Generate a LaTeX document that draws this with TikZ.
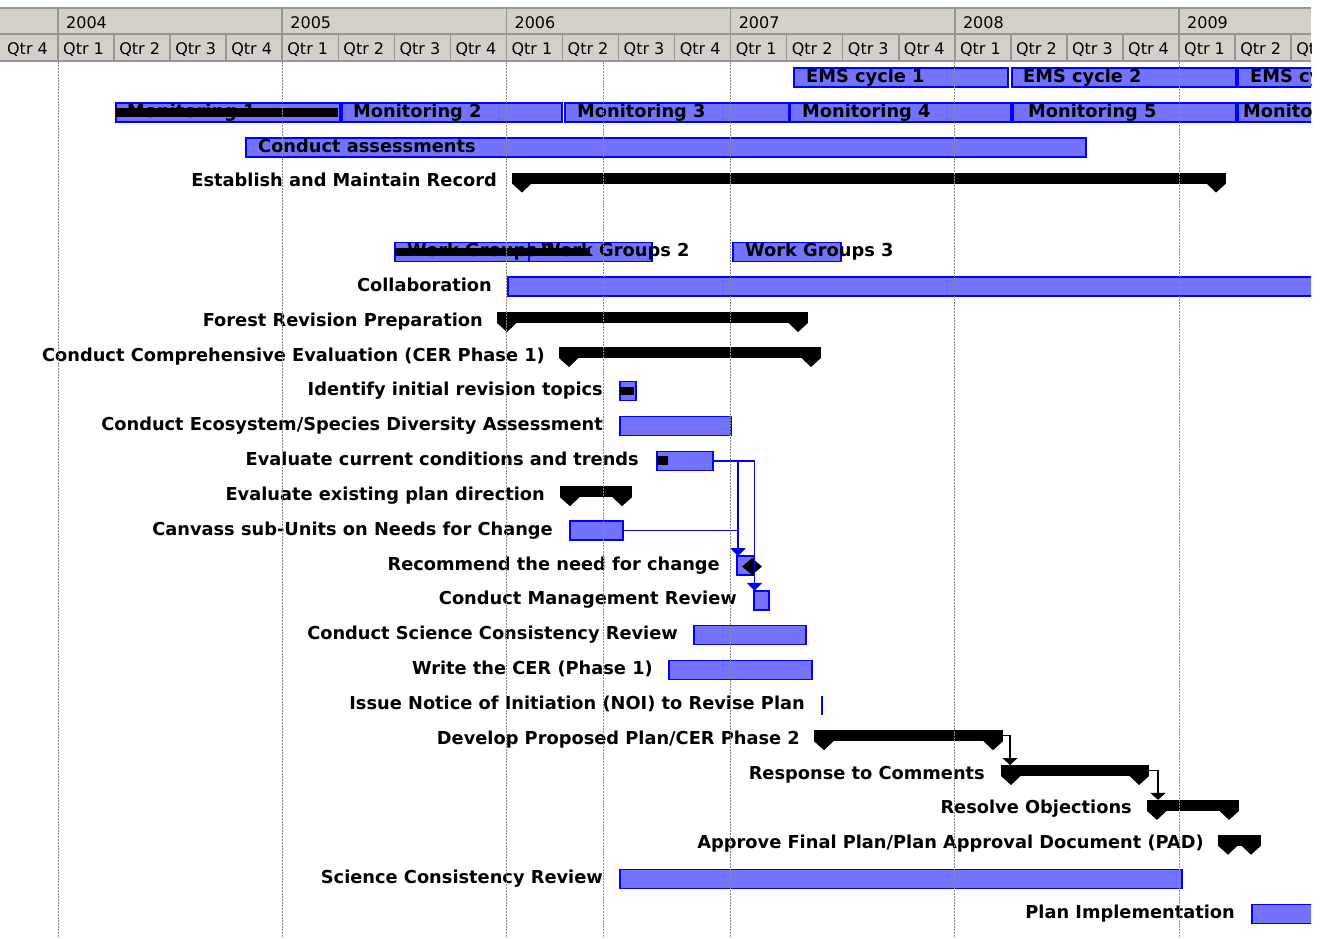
\documentclass[tikz,border=0pt]{standalone}
\usepackage{fontspec}
\setmainfont{DejaVu Sans}
\usetikzlibrary{arrows.meta,shapes.geometric,calc}

\definecolor{hdrfill}{RGB}{212,208,200}
\definecolor{hdrline}{RGB}{150,150,150}
\definecolor{barfill}{RGB}{115,115,255}
\definecolor{barblue}{RGB}{0,0,255}
\definecolor{gridgray}{RGB}{140,140,140}

\tikzset{
  taskbar/.style={draw=barblue, fill=barfill, line width=1.4pt, inner sep=0pt, outer sep=0pt,
    minimum height=19pt, anchor=north west},
  progressbar/.style={fill=black, inner sep=0pt, outer sep=0pt, minimum height=8.5pt, anchor=north west},
  sumbar/.style={fill=black, inner sep=0pt, outer sep=0pt, minimum height=11pt, anchor=north west},
  lbl/.style={font=\bfseries\fontsize{17.8}{20}\selectfont, inner sep=0pt, anchor=base east},
  inlbl/.style={font=\bfseries\fontsize{17.8}{20}\selectfont, inner sep=0pt, anchor=base west},
  hdr/.style={font=\fontsize{16}{18}\selectfont, inner sep=0pt, anchor=base west},
  hdrrule/.style={draw=hdrline, line width=1.5pt},
  bluelink/.style={draw=barblue, line width=1.5pt, -{Triangle[width=15pt,length=8pt]}},
  blacklink/.style={draw=black, line width=1.2pt, -{Triangle[width=15pt,length=7pt]}},
  gridline/.style={draw=gridgray, line width=1pt, dash pattern=on 1.5pt off 1.5pt},
}

% task bar: name, start x, end x, top y
\newcommand\gantttask[4]{\node[taskbar, minimum width={(#3-#2)*1pt}] (#1) at (#2,#4) {};}
% progress strip inside a task bar: name, start x, end x, top y of the task
\newcommand\ganttdone[4]{\node[progressbar, minimum width={(#3-#2)*1pt}] (#1) at (#2,#4+5) {};}
% summary bar with its two end marks: name, start x, end x, top y
\newcommand\summarybar[4]{%
  \node[sumbar, minimum width={(#3-#2)*1pt}] (#1) at (#2,#4) {};
  \fill (#1.south west) -- ++(10,9) -- ++(9.5,-9) -- cycle;
  \fill (#1.south east) -- ++(-10,9) -- ++(-9.5,-9) -- cycle;
}
% row label: name, right end x, top y of the row, text
\newcommand\rowlabel[4]{\node[lbl] (#1) at (#2,#3+14) {#4};}
% label written on a bar: name, start x, top y of the row, text
\newcommand\barlabel[4]{\node[inlbl] (#1) at (#2,#3+14) {#4};}

\begin{document}
\begin{tikzpicture}[x=1pt,y=-1pt]
\useasboundingbox (0,0) rectangle (1329,938);

% ---------- timescale ----------
\begin{scope}
  \clip (0,0) rectangle (1311,62);
  \fill[hdrfill] (0,8) rectangle (1311,61);
  \foreach \k in {0,...,22} {
    \draw[hdrrule] (58+56.05*\k,34) -- (58+56.05*\k,61);
  }
  \foreach \i in {0,...,5} {
    \draw[hdrrule] (58+224.2*\i,8) -- (58+224.2*\i,61);
  }
  \draw[hdrrule] (0,8) -- (1311,8) (0,34) -- (1311,34) (0,61) -- (1311,61);
  \foreach \yr [count=\i from 0] in {2004,...,2009} {
    \node[hdr] (yr\yr) at (58+224.2*\i+8,28) {\yr};
  }
  \foreach \k in {-1,...,22} {
    \pgfmathtruncatemacro\q{mod(\k+4,4)+1}
    \node[hdr] (qtr\k) at (58+56.05*\k+5,54.5) {Qtr \q};
  }
\end{scope}

% ---------- chart ----------
\begin{scope}
  \clip (0,62) rectangle (1311,938);

  % EMS cycles
  \gantttask{ems1}{794}{1008}{68}
  \gantttask{ems2}{1012}{1236}{68}
  \gantttask{ems3}{1238}{1340}{68}
  \barlabel{ems1t}{806}{68}{EMS cycle 1}
  \barlabel{ems2t}{1023}{68}{EMS cycle 2}
  \barlabel{ems3t}{1250}{68}{EMS cycle 3}

  % Monitoring
  \gantttask{mon1}{116}{340}{103}
  \gantttask{mon2}{342}{562}{103}
  \gantttask{mon3}{565}{789}{103}
  \gantttask{mon4}{790}{1011}{103}
  \gantttask{mon5}{1013}{1236}{103}
  \gantttask{mon6}{1238}{1340}{103}
  \ganttdone{mon1p}{116}{338}{103}
  \barlabel{mon1t}{127}{103}{Monitoring 1}
  \barlabel{mon2t}{353}{103}{Monitoring 2}
  \barlabel{mon3t}{577}{103}{Monitoring 3}
  \barlabel{mon4t}{802}{103}{Monitoring 4}
  \barlabel{mon5t}{1028}{103}{Monitoring 5}
  \barlabel{mon6t}{1243}{103}{Monitoring 6}

  % Assessments
  \gantttask{assess}{246}{1086}{138}
  \barlabel{assesst}{258}{138}{Conduct assessments}

  % Record
  \summarybar{record}{512}{1226}{172.5}
  \rowlabel{recordl}{497}{172.5}{Establish and Maintain Record}

  % Work groups
  \gantttask{wg1}{395}{529}{242.5}
  \gantttask{wg2}{529}{652}{242.5}
  \gantttask{wg3}{733}{841}{242.5}
  \ganttdone{wg1p}{395}{529}{242.5}
  \ganttdone{wg2p}{529}{590}{242.5}
  \barlabel{wg1t}{407}{242.5}{Work Groups 1}
  \barlabel{wg2t}{541}{242.5}{Work Groups 2}
  \barlabel{wg3t}{745}{242.5}{Work Groups 3}

  % Collaboration
  \gantttask{collab}{508}{1340}{277}
  \rowlabel{collabl}{492}{277}{Collaboration}

  % Forest revision
  \summarybar{forest}{497}{808}{312}
  \rowlabel{forestl}{483}{312}{Forest Revision Preparation}

  \summarybar{cerone}{559}{821}{347}
  \rowlabel{ceronel}{545}{347}{Conduct Comprehensive Evaluation (CER Phase 1)}

  \gantttask{identify}{620}{636}{381.7}
  \ganttdone{identifyp}{620}{634}{381.7}
  \rowlabel{identifyl}{603}{381.7}{Identify initial revision topics}

  \gantttask{ecosys}{620}{731}{416.5}
  \rowlabel{ecosysl}{603}{416.5}{Conduct Ecosystem/Species Diversity Assessment}

  \gantttask{evalcur}{657}{713}{451.4}
  \ganttdone{evalcurp}{657}{668}{451.4}
  \rowlabel{evalcurl}{639}{451.4}{Evaluate current conditions and trends}

  \summarybar{evalexist}{560}{632}{486.2}
  \rowlabel{evalexistl}{545}{486.2}{Evaluate existing plan direction}

  \gantttask{canvass}{570}{623}{521}
  \rowlabel{canvassl}{553}{521}{Canvass sub-Units on Needs for Change}

  \gantttask{recommend}{737}{754}{556}
  \node[diamond, fill=black, inner sep=0pt, minimum width=20pt, minimum height=17pt] (recmark) at (752,566.5) {};
  \rowlabel{recommendl}{720}{556}{Recommend the need for change}

  \gantttask{mgmt}{754}{769}{590.8}
  \rowlabel{mgmtl}{737}{590.8}{Conduct Management Review}

  \gantttask{conscr}{694}{806}{625.6}
  \rowlabel{conscrl}{678}{625.6}{Conduct Science Consistency Review}

  \gantttask{writecer}{669}{812}{660.5}
  \rowlabel{writecerl}{653}{660.5}{Write the CER (Phase 1)}

  \node[fill=barblue, inner sep=0pt, outer sep=0pt, minimum width=2pt, minimum height=19pt, anchor=north] (noi) at (821.7,695.5) {};
  \rowlabel{noil}{805}{695.3}{Issue Notice of Initiation (NOI) to Revise Plan}

  \summarybar{develop}{814}{1003}{730.2}
  \rowlabel{developl}{800}{730.2}{Develop Proposed Plan/CER Phase 2}

  \summarybar{response}{1001}{1149}{765}
  \rowlabel{responsel}{985}{765}{Response to Comments}

  \summarybar{resolve}{1147}{1239}{799.9}
  \rowlabel{resolvel}{1132}{799.9}{Resolve Objections}

  \summarybar{approve}{1218}{1261}{834.7}
  \rowlabel{approvel}{1204}{834.7}{Approve Final Plan/Plan Approval Document (PAD)}

  \gantttask{scr}{620}{1182}{869.6}
  \rowlabel{scrl}{603}{869.6}{Science Consistency Review}

  \gantttask{planimpl}{1252}{1340}{904.4}
  \rowlabel{planimpll}{1235}{904.4}{Plan Implementation}

  % dependency links
  \draw[bluelink] (evalcur.east) -| ([xshift=1pt]recommend.north west);
  \draw[bluelink] (canvass.east) -| ([xshift=1pt]recommend.north west);
  \draw[bluelink] (evalcur.east) -| ([xshift=0.5pt]mgmt.north west);
  \draw[blacklink] (develop.east) -| ([xshift=9pt]response.north west);
  \draw[blacklink] (response.east) -| ([xshift=11pt]resolve.north west);

  % year and status-date gridlines
  \foreach \gx in {58,282.2,506.4,603,730.6,954.8,1179} {
    \draw[gridline] (\gx,62) -- (\gx,938);
  }
\end{scope}
\end{tikzpicture}
\end{document}
